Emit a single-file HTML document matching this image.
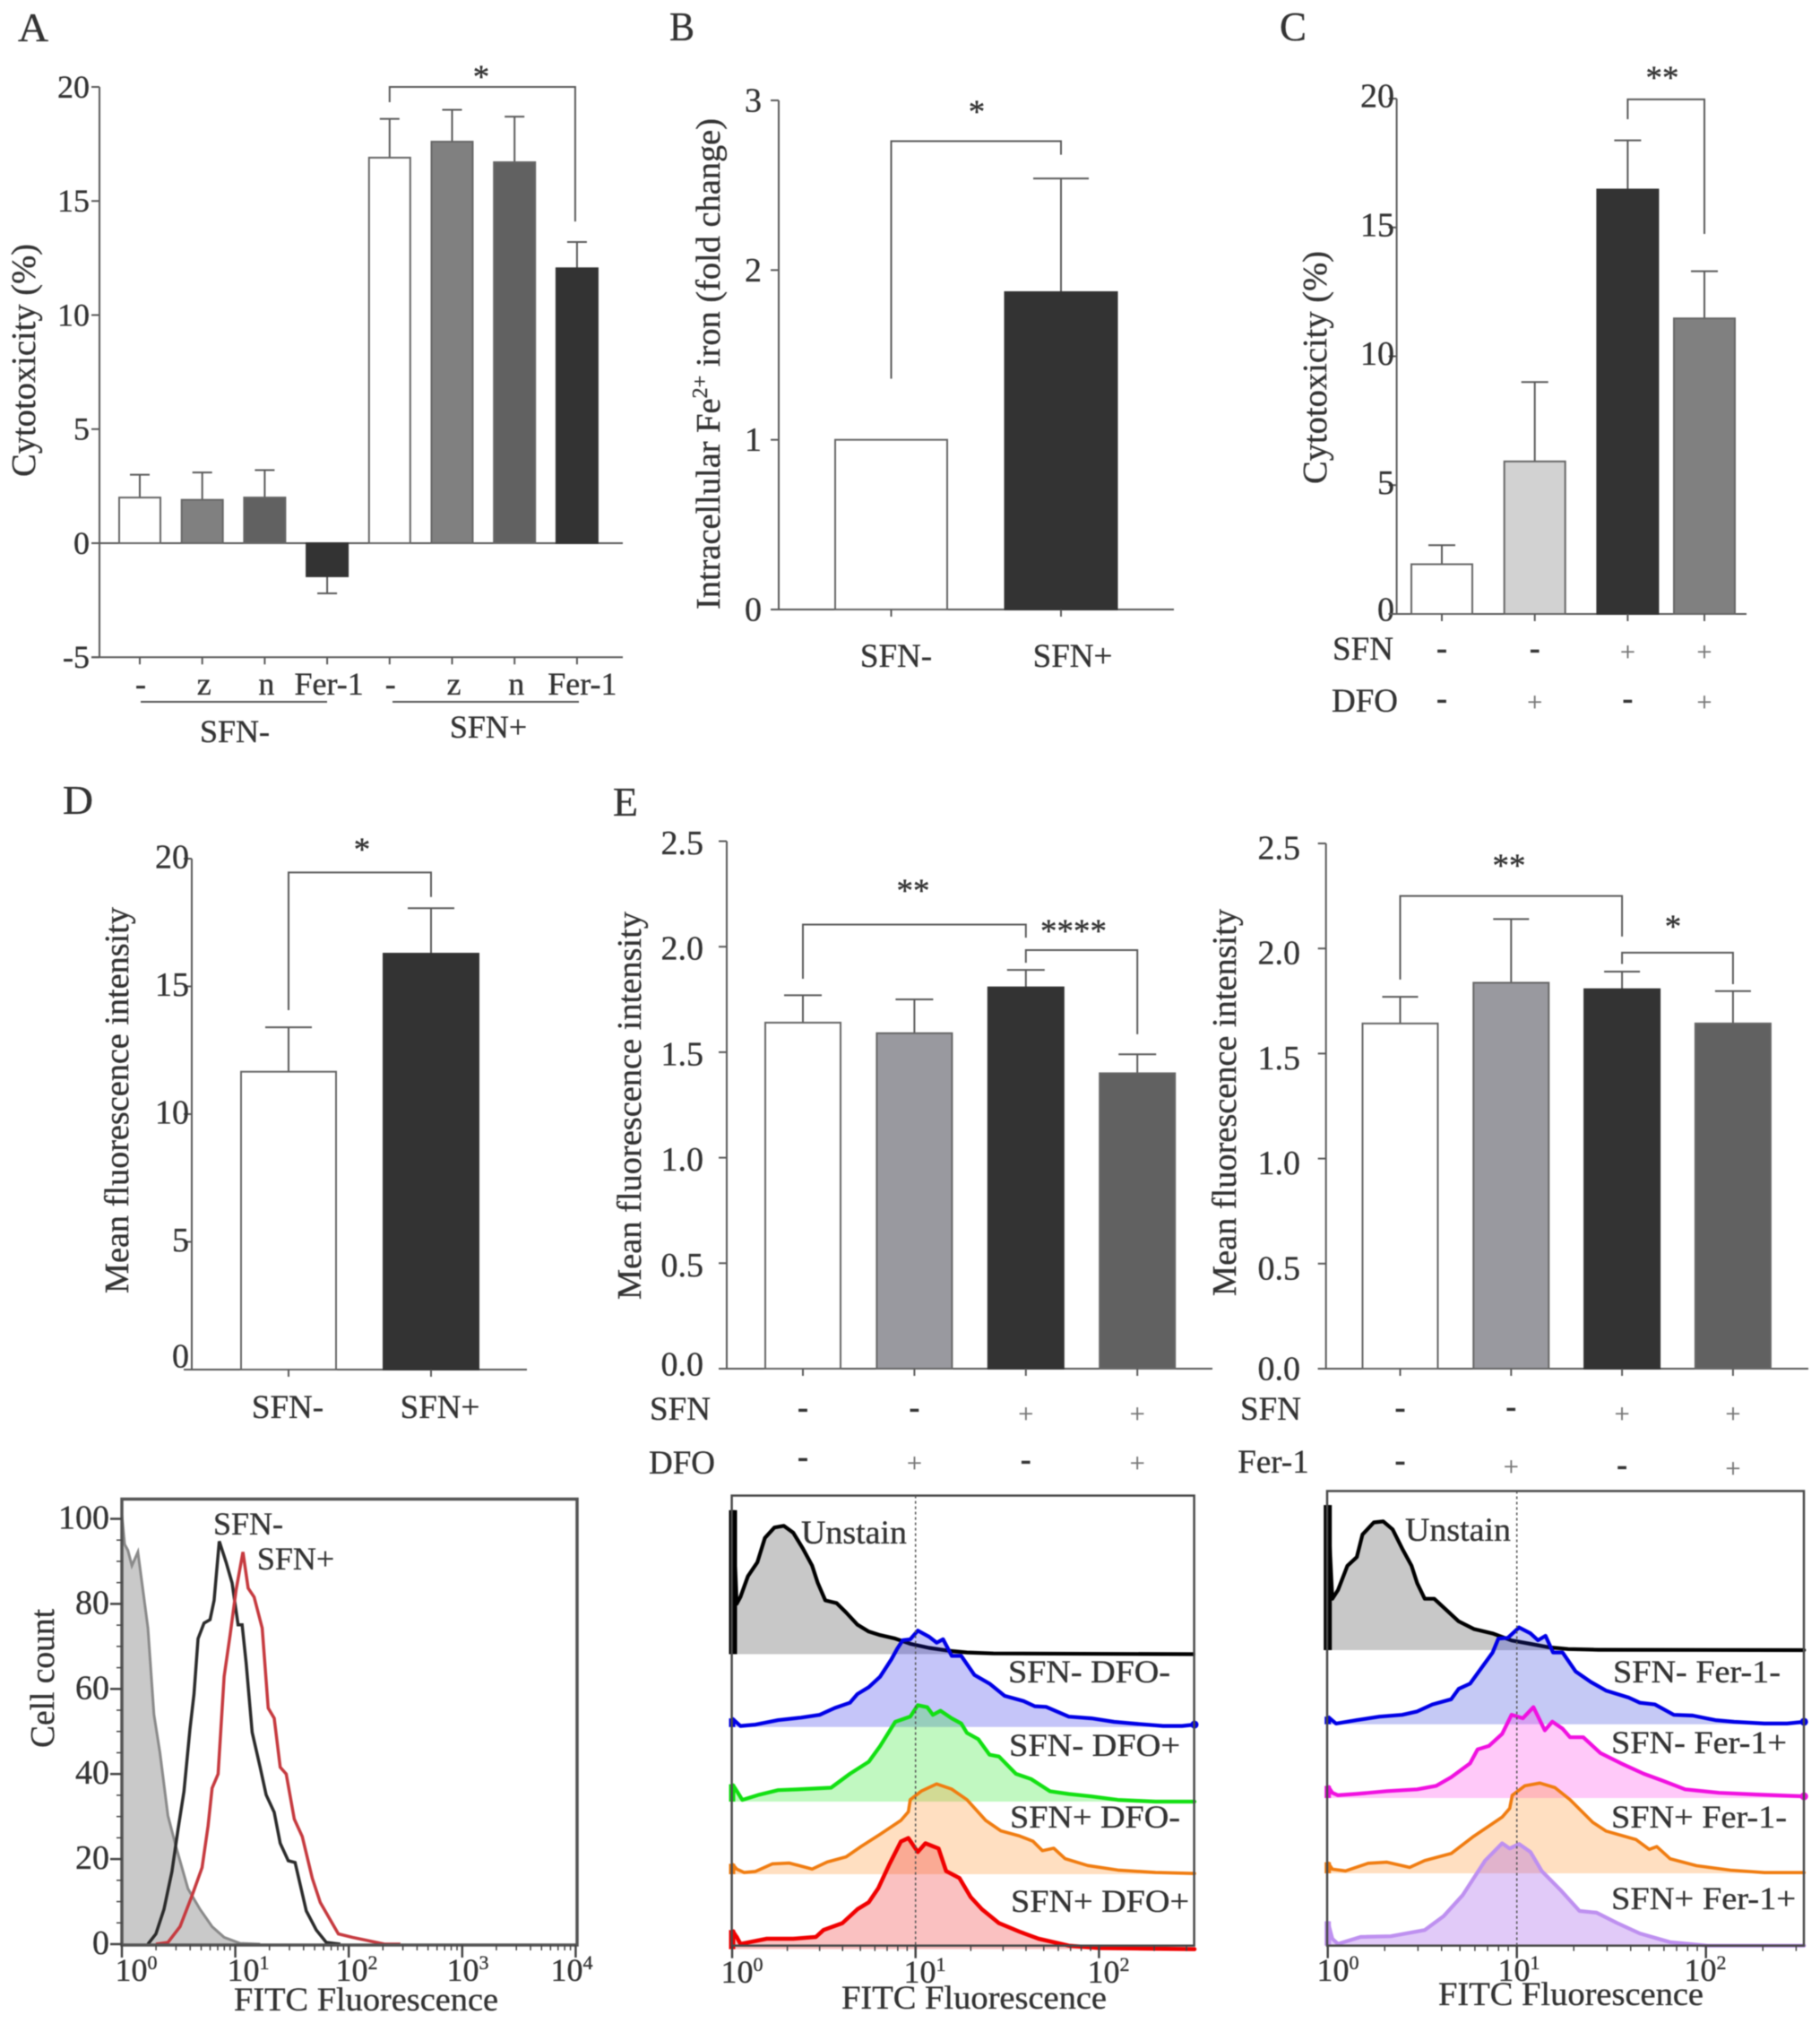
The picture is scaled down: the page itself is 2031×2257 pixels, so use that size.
<!DOCTYPE html>
<html lang="en">
<head>
<meta charset="utf-8">
<title>Sulforaphane ferroptosis figure panels</title>
<style>
html,body{margin:0;padding:0;background:#fff;}
svg{display:block;filter:blur(0.6px);}
text{font-family:"Liberation Serif","DejaVu Serif",serif;fill:#333;stroke:#333;stroke-width:0.35px;}
</style>
</head>
<body>
<svg id="figure" xmlns="http://www.w3.org/2000/svg" width="2031" height="2257" viewBox="0 0 2031 2257">
<rect x="0" y="0" width="2031" height="2257" fill="#fff"/>

<g id="panel-a">
  <text x="20" y="46" font-size="45" textLength="34" lengthAdjust="spacingAndGlyphs">A</text>
  <text transform="translate(39,532) rotate(-90)" font-size="38" textLength="260" lengthAdjust="spacingAndGlyphs">Cytotoxicity (%)</text>
  <text x="537" y="98" font-size="37" text-anchor="middle">*</text>
  <line x1="157" y1="783" x2="365" y2="783" stroke="#555" stroke-width="2"/>
  <line x1="438" y1="783" x2="646" y2="783" stroke="#555" stroke-width="2"/>
  <text x="262" y="828" font-size="36" text-anchor="middle">SFN-</text>
  <text x="545" y="823" font-size="36" text-anchor="middle">SFN+</text>
</g>

<g id="panel-b">
  <text x="747" y="45" font-size="45" textLength="28" lengthAdjust="spacingAndGlyphs">B</text>
  <text transform="translate(803,680) rotate(-90)" font-size="38" textLength="548" lengthAdjust="spacingAndGlyphs">Intracellular Fe<tspan font-size="24" dy="-14">2+</tspan><tspan dy="14"> iron (fold change)</tspan></text>
  <text x="1090" y="137" font-size="37" text-anchor="middle">*</text>
  <text x="1000" y="744" font-size="37" text-anchor="middle">SFN-</text>
  <text x="1197" y="744" font-size="37" text-anchor="middle">SFN+</text>
</g>

<g id="panel-c">
  <text x="1428" y="45" font-size="45" textLength="30" lengthAdjust="spacingAndGlyphs">C</text>
  <text transform="translate(1480,540) rotate(-90)" font-size="38" textLength="260" lengthAdjust="spacingAndGlyphs">Cytotoxicity (%)</text>
  <text x="1855" y="99" font-size="37" text-anchor="middle">**</text>
  <text x="1521" y="736" font-size="37" text-anchor="middle">SFN</text>
  <text x="1523" y="794" font-size="37" text-anchor="middle">DFO</text>
</g>

<g id="panel-d">
  <text x="70" y="908" font-size="45" textLength="34" lengthAdjust="spacingAndGlyphs">D</text>
  <text transform="translate(143,1443) rotate(-90)" font-size="38" textLength="431" lengthAdjust="spacingAndGlyphs">Mean fluorescence intensity</text>
  <text x="404" y="960" font-size="37" text-anchor="middle">*</text>
  <text x="321" y="1582" font-size="37" text-anchor="middle">SFN-</text>
  <text x="491" y="1582" font-size="37" text-anchor="middle">SFN+</text>
</g>

<g id="panel-e-dfo">
  <text x="684" y="910" font-size="45" textLength="28" lengthAdjust="spacingAndGlyphs">E</text>
  <text transform="translate(715,1450) rotate(-90)" font-size="38" textLength="433" lengthAdjust="spacingAndGlyphs">Mean fluorescence intensity</text>
  <text x="1019" y="1006" font-size="37" text-anchor="middle">**</text>
  <text x="1198" y="1051" font-size="37" text-anchor="middle">****</text>
  <text x="759" y="1584" font-size="37" text-anchor="middle">SFN</text>
  <text x="761" y="1644" font-size="37" text-anchor="middle">DFO</text>
</g>

<g id="panel-e-fer">
  <text transform="translate(1379,1446) rotate(-90)" font-size="38" textLength="432" lengthAdjust="spacingAndGlyphs">Mean fluorescence intensity</text>
  <text x="1684" y="978" font-size="37" text-anchor="middle">**</text>
  <text x="1867" y="1046" font-size="37" text-anchor="middle">*</text>
  <text x="1418" y="1584" font-size="37" text-anchor="middle">SFN</text>
  <text x="1421" y="1643" font-size="37" text-anchor="middle">Fer-1</text>
</g>

<g id="flow-d">
  <text transform="translate(60,1950) rotate(-90)" font-size="38" textLength="155" lengthAdjust="spacingAndGlyphs">Cell count</text>
  <text x="261" y="2243" font-size="37" textLength="295" lengthAdjust="spacingAndGlyphs">FITC Fluorescence</text>
  <text x="152" y="2210" font-size="36" text-anchor="middle">10<tspan font-size="22" dy="-13">0</tspan></text>
  <text x="277" y="2210" font-size="36" text-anchor="middle">10<tspan font-size="22" dy="-13">1</tspan></text>
  <text x="398" y="2210" font-size="36" text-anchor="middle">10<tspan font-size="22" dy="-13">2</tspan></text>
  <text x="522" y="2210" font-size="36" text-anchor="middle">10<tspan font-size="22" dy="-13">3</tspan></text>
  <text x="638" y="2210" font-size="36" text-anchor="middle">10<tspan font-size="22" dy="-13">4</tspan></text>
</g>

<g id="flow-e-dfo">
  <text x="939" y="2241" font-size="37" textLength="296" lengthAdjust="spacingAndGlyphs">FITC Fluorescence</text>
  <text x="828" y="2212" font-size="36" text-anchor="middle">10<tspan font-size="22" dy="-13">0</tspan></text>
  <text x="1032" y="2212" font-size="36" text-anchor="middle">10<tspan font-size="22" dy="-13">1</tspan></text>
  <text x="1237" y="2212" font-size="36" text-anchor="middle">10<tspan font-size="22" dy="-13">2</tspan></text>
</g>

<g id="flow-e-fer">
  <text x="1605" y="2237" font-size="37" textLength="296" lengthAdjust="spacingAndGlyphs">FITC Fluorescence</text>
  <text x="1493" y="2210" font-size="36" text-anchor="middle">10<tspan font-size="22" dy="-13">0</tspan></text>
  <text x="1695" y="2210" font-size="36" text-anchor="middle">10<tspan font-size="22" dy="-13">1</tspan></text>
  <text x="1903" y="2210" font-size="36" text-anchor="middle">10<tspan font-size="22" dy="-13">2</tspan></text>
</g>

<g id="flow-labels">
  <text x="277" y="1712" font-size="36" text-anchor="middle">SFN-</text>
  <text x="330" y="1751" font-size="36" text-anchor="middle">SFN+</text>
  <text x="894" y="1722" font-size="37" textLength="118" lengthAdjust="spacingAndGlyphs">Unstain</text>
  <text x="1125" y="1877" font-size="36" textLength="181" lengthAdjust="spacingAndGlyphs">SFN- DFO-</text>
  <text x="1126" y="1959" font-size="36" textLength="191" lengthAdjust="spacingAndGlyphs">SFN- DFO+</text>
  <text x="1127" y="2039" font-size="36" textLength="190" lengthAdjust="spacingAndGlyphs">SFN+ DFO-</text>
  <text x="1128" y="2133" font-size="36" textLength="199" lengthAdjust="spacingAndGlyphs">SFN+ DFO+</text>
  <text x="1568" y="1719" font-size="37" textLength="118" lengthAdjust="spacingAndGlyphs">Unstain</text>
  <text x="1800" y="1877" font-size="36" textLength="187" lengthAdjust="spacingAndGlyphs">SFN- Fer-1-</text>
  <text x="1798" y="1956" font-size="36" textLength="196" lengthAdjust="spacingAndGlyphs">SFN- Fer-1+</text>
  <text x="1798" y="2039" font-size="36" textLength="196" lengthAdjust="spacingAndGlyphs">SFN+ Fer-1-</text>
  <text x="1798" y="2130" font-size="36" textLength="206" lengthAdjust="spacingAndGlyphs">SFN+ Fer-1+</text>
</g>
</svg>

<script>
/* ---------- bar chart data ---------- */
const aCategories = ['-','z','n','Fer-1','-','z','n','Fer-1'];
const aValues = [2.0,1.9,2.0,-1.45,16.9,17.6,16.7,12.05];
const aErrorEnds = [3.0,3.1,3.2,-2.2,18.6,19.0,18.7,13.2];
const aTicks = [-5,0,5,10,15,20];

const bValues = [1.0,1.87];
const bErrorEnds = [1.0,2.54];
const bTicks = [0,1,2,3];

const cValues = [1.93,5.92,16.47,11.47];
const cErrorEnds = [2.67,9.0,18.38,13.3];
const cTicks = [0,5,10,15,20];
const cRowSfn = ['-','-','+','+'];
const cRowDfo = ['-','+','-','+'];

const dValues = [11.66,16.28];
const dErrorEnds = [13.4,18.06];
const dTicks = [0,5,10,15,20];

const e1Values = [1.64,1.59,1.807,1.40];
const e1ErrorEnds = [1.77,1.75,1.89,1.49];
const e2Values = [1.643,1.837,1.806,1.643];
const e2ErrorEnds = [1.77,2.14,1.89,1.797];
const eTicks = [0,0.5,1,1.5,2,2.5];
const e1RowSfn = ['-','-','+','+'];
const e1RowDfo = ['-','+','-','+'];
const e2RowSfn = ['-','-','+','+'];
const e2RowFer = ['-','+','-','+'];

/* ---------- flow histogram data (channel, event count) ---------- */
const dUnstainChannels = [0,7,15,25,40,50,65,80,95,115,135,165,195,225,255,295,345];
const dUnstainCounts = [101,94,92.6,89,92.2,85,74.3,54,45,30.2,22.9,13,8.2,4.1,1.6,0.2,0];
const dSfnMinusChannels = [65,85,105,125,140,155,170,180,190,205,220,230,243,260,275,290,300,310,325,345,360,380,395,415,432,445,460,485,510,545];
const dSfnMinusCounts = [0,2.4,8.2,17.1,26.9,35.9,50.6,58.8,71.8,75.5,76.3,80.8,94.7,89.8,84.9,75.1,75.1,66.1,49.8,41.6,35.1,31,23.7,19.6,19.2,13.9,7.8,3.3,0.4,0];
const dSfnPlusChannels = [85,115,145,175,200,215,225,240,255,270,285,302,315,330,350,365,380,395,410,430,450,475,495,520,540,575,615,655,695];
const dSfnPlusCounts = [0,0.4,4.1,11.4,18,27.8,36.7,40,62.9,72.7,83.3,92.2,83.7,81.6,74.3,55.5,53.1,41.6,40,29.4,25.3,15.5,9.8,5.7,2.4,1.6,0.8,0,0];

const e1UnstainChannels = [0,12,22,42,67,87,112,137,162,187,212,227,247,277,302,332,362,392,432,472,522,572,622,692,1222];
const e1UnstainCounts = [415,145,165,225,265,335,365,370,350,305,255,205,155,147,120,85,65,55,45,30,18,10,5,2,0];
const e1BlueChannels = [0,22,62,122,182,232,272,312,332,362,392,422,437,452,472,492,522,542,559,582,607,642,682,722,772,802,832,892,952,1012,1062,1142,1192,1225];
const e1BlueCounts = [25,3,7,20,27,35,55,70,95,115,145,195,225,250,253,278,260,243,253,205,205,150,125,90,75,60,58,30,25,15,10,3,3,7];
const e1GreenChannels = [0,7,27,72,122,172,262,312,362,392,432,472,492,517,532,552,582,607,622,652,682,707,752,792,842,892,952,1022,1122,1225];
const e1GreenCounts = [50,40,5,20,33,35,40,80,115,160,230,245,278,272,250,262,240,225,198,180,135,130,80,65,30,22,15,5,0,0];
const e1OrangeChannels = [0,12,32,62,107,152,212,252,302,342,392,447,467,472,502,542,582,622,672,712,762,797,822,852,882,942,1022,1122,1225];
const e1OrangeCounts = [30,15,5,8,30,32,15,35,50,80,115,155,180,215,240,260,245,215,155,125,110,95,68,75,45,25,12,5,2];
const e1RedChannels = [0,12,22,92,162,222,242,292,332,362,387,417,447,467,492,512,547,567,602,632,662,707,762,812,892,972,1225];
const e1RedCounts = [55,35,15,30,30,35,55,75,115,135,175,245,310,320,280,305,290,225,205,150,115,75,50,30,10,3,0];

const e2UnstainChannels = [0,12,27,52,77,92,122,147,172,197,222,237,257,282,312,347,387,437,487,537,587,637,717,1262];
const e2UnstainCounts = [418,148,173,243,268,333,368,371,348,293,243,193,148,148,118,83,61,48,28,18,8,3,1,0];
const e2BlueChannels = [0,22,77,137,197,237,277,327,347,377,407,437,452,477,507,537,557,577,597,622,657,697,737,797,827,867,917,967,1027,1077,1157,1217,1262];
const e2BlueCounts = [22,2,12,22,27,37,57,72,102,117,162,207,247,249,279,262,242,255,207,207,152,122,97,77,62,57,27,25,12,7,2,2,7];
const e2MagentaChannels = [0,12,27,77,157,237,287,327,377,397,427,462,487,517,545,575,595,622,642,677,722,777,837,887,947,1037,1137,1262];
const e2MagentaCounts = [35,15,8,12,20,25,35,60,100,140,150,185,240,230,262,195,220,200,175,175,130,100,70,50,25,15,10,5];
const e2OrangeChannels = [0,12,47,107,157,217,257,327,387,462,482,489,522,562,602,642,702,737,817,852,872,907,977,1067,1157,1262];
const e2OrangeCounts = [32,12,7,29,32,17,37,57,107,162,187,225,252,260,247,212,147,122,97,69,77,42,22,9,2,2];
const e2PurpleChannels = [0,12,27,87,167,257,307,357,417,462,482,507,537,567,617,667,712,767,827,907,1007,1262];
const e2PurpleCounts = [70,20,5,25,27,45,85,145,245,295,280,293,270,215,160,100,95,65,35,10,0,0];

/* ---------- helpers ---------- */
const NS = 'http://www.w3.org/2000/svg';
function make(parent, tag, attrs) {
  const el = document.createElementNS(NS, tag);
  for (const k in attrs) el.setAttribute(k, attrs[k]);
  parent.appendChild(el);
  return el;
}
const AXIS = '#5a5a5a';

function linear(d0, d1, r0, r1) {
  return function (v) { return r0 + (v - d0) * (r1 - r0) / (d1 - d0); };
}

function drawAxes(g, o) {
  /* vertical axis */
  let el = make(g, 'line', {x1:o.axisX, x2:o.axisX, y1:o.y(o.ticks[o.ticks.length-1]), y2:o.y(o.ticks[0]), stroke:AXIS, 'stroke-width':2});
  
  
  o.ticks.forEach(function (t, i) {
    const tick = make(g, 'line', {x1:o.axisX-9, x2:o.axisX, y1:o.y(t), y2:o.y(t), stroke:AXIS, 'stroke-width':2});
    
    
    const str = o.tickFormat ? o.tickFormat(t) : String(t);
    const dy = (t === 0 ? o.zeroDy : o.labelDy) || 0;
    const label = make(g, 'text', {x:o.labelEnd, y:o.y(t)+dy+o.fontSize*0.33, 'font-size':o.fontSize, 'text-anchor':'end'});
    label.textContent = str;
    
    
  });
  /* horizontal axis */
  el = make(g, 'line', {x1:o.axisX-9, x2:o.axisEnd, y1:o.y(o.xAxisAt), y2:o.y(o.xAxisAt), stroke:AXIS, 'stroke-width':2});
  
  
}

function drawBars(g, o) {
  o.values.forEach(function (v, i) {
    const cx = o.x(i);
    /* error bar first so the bar sits on top */
    const stem = make(g, 'line', {x1:cx, x2:cx, y1:o.y(v), y2:o.y(o.errors[i]), stroke:AXIS, 'stroke-width':2});
    
    
    if (o.errors[i] !== v) {
      const cap = make(g, 'line', {x1:cx-o.cap/2, x2:cx+o.cap/2, y1:o.y(o.errors[i]), y2:o.y(o.errors[i]), stroke:AXIS, 'stroke-width':2});
      
      
    }
    const top = Math.min(o.y(v), o.y(0));
    const h = Math.abs(o.y(v) - o.y(0));
    const bar = make(g, 'rect', {x:cx-o.width/2, y:top, width:o.width, height:h, fill:o.colors[i], stroke:o.colors[i]==='#ffffff'?'#666':(o.colors[i]==='#333333'?'#333':'#666'), 'stroke-width':2});
    
    
    const tick = make(g, 'line', {x1:cx, x2:cx, y1:o.y(o.xAxisAt), y2:o.y(o.xAxisAt)+8, stroke:AXIS, 'stroke-width':2});
    
    
  });
}

function bracket(g, x1, x2, level, leftEnd, rightEnd, y) {
  const d = 'M'+x1+' '+y(leftEnd)+' V'+y(level)+' H'+x2+' V'+y(rightEnd);
  const el = make(g, 'path', {d:d, fill:'none', stroke:AXIS, 'stroke-width':2});
  
  
}

function symbolRow(g, symbols, x, yCenters) {
  symbols.forEach(function (s, i) {
    const isMinus = s === '-';
    const size = isMinus ? 36 : 30;
    const t = make(g, 'text', {x:x(i), y:yCenters[i]+(isMinus?8:10), 'font-size':size, 'text-anchor':'middle', 'font-weight':isMinus?'bold':'normal'});
    t.setAttribute('style', isMinus ? 'fill:#333' : 'fill:#777;stroke:#777');
    t.textContent = s;
    
    
  });
}

/* ---------- panel A ---------- */
(function () {
  const g = document.getElementById('panel-a');
  const y = linear(0, 20, 606, 97);
  const x = function (i) { return 156 + i * 69.7; };
  const colors = ['#ffffff','#808080','#616161','#333333','#ffffff','#808080','#616161','#333333'];
  drawAxes(g, {axisX:111, axisEnd:695, y:y, ticks:aTicks, labelEnd:100, fontSize:36, xAxisAt:0});
  const bottom = make(g, 'line', {x1:102, x2:695, y1:y(-5), y2:y(-5), stroke:AXIS, 'stroke-width':2});
  
  
  drawBars(g, {values:aValues, errors:aErrorEnds, x:x, y:y, width:46, cap:22, colors:colors, xAxisAt:-5});
  bracket(g, x(4), x(7)-2, 20, 19.33, 14.1, y);
  aCategories.forEach(function (c, i) {
    const t = make(g, 'text', {x:x(i)+(c==='Fer-1'?(i===7?6:2):(c==='-'?1:2)), y:775, 'font-size':36, 'text-anchor':'middle'});
    t.textContent = c;
    
    
  });
})();

/* ---------- panel B ---------- */
(function () {
  const g = document.getElementById('panel-b');
  const y = linear(0, 3, 680, 112);
  const x = function (i) { return 994.5 + i * 189.5; };
  drawAxes(g, {axisX:869, axisEnd:1310, y:y, ticks:bTicks, labelEnd:850, fontSize:38, xAxisAt:0});
  drawBars(g, {values:bValues, errors:bErrorEnds, x:x, y:y, width:125, cap:62, colors:['#ffffff','#333333'], xAxisAt:0});
  bracket(g, x(0), x(1), 2.76, 1.36, 2.68, y);
})();

/* ---------- panel C ---------- */
(function () {
  const g = document.getElementById('panel-c');
  const y = linear(0, 20, 685, 110);
  const x = function (i) { return 1609 + i * 103.7 - (i === 3 ? 18.1 : 0); };
  drawAxes(g, {axisX:1558.6, axisEnd:1949, y:y, ticks:cTicks, labelEnd:1556, fontSize:38, xAxisAt:0, zeroDy:-5, labelDy:-3});
  drawBars(g, {values:cValues, errors:cErrorEnds, x:x, y:y, width:68, cap:30, colors:['#ffffff','#d2d2d2','#333333','#808080'], xAxisAt:0});
  bracket(g, x(2), x(3), 19.97, 19.2, 14.75, y);
  symbolRow(g, cRowSfn, x, [727,727,727,727]);
  symbolRow(g, cRowDfo, x, [783,783,783,783]);
})();

/* ---------- panel D ---------- */
(function () {
  const g = document.getElementById('panel-d');
  const y = linear(0, 20, 1528, 958);
  const x = function (i) { return 322 + i * 159; };
  drawAxes(g, {axisX:214, axisEnd:588, y:y, ticks:dTicks, labelEnd:211, fontSize:38, xAxisAt:0, zeroDy:-15, labelDy:-2});
  drawBars(g, {values:dValues, errors:dErrorEnds, x:x, y:y, width:106, cap:52, colors:['#ffffff','#333333'], xAxisAt:0});
  bracket(g, x(0), x(1), 19.46, 14.07, 18.5, y);
})();

/* ---------- panel E, DFO ---------- */
(function () {
  const g = document.getElementById('panel-e-dfo');
  const y = linear(0, 2.5, 1527, 938.5);
  const x = function (i) { return 896 + i * 124.4; };
  drawAxes(g, {axisX:811, axisEnd:1353, y:y, ticks:eTicks, labelEnd:785, fontSize:38, xAxisAt:0, zeroDy:-5, labelDy:2, tickFormat:function (t) { return t.toFixed(1); }});
  drawBars(g, {values:e1Values, errors:e1ErrorEnds, x:x, y:y, width:84, cap:42, colors:['#ffffff','#99999f','#333333','#616161'], xAxisAt:0});
  bracket(g, x(0), x(2), 2.105, 1.848, 2.043, y);
  bracket(g, x(2), x(3), 1.984, 1.924, 1.585, y);
  symbolRow(g, e1RowSfn, x, [1574,1574,1577,1577]);
  symbolRow(g, e1RowDfo, x, [1629,1632,1632,1632]);
})();

/* ---------- panel E, Fer-1 ---------- */
(function () {
  const g = document.getElementById('panel-e-fer');
  const y = linear(0, 2.5, 1527, 941);
  const x = function (i) { return 1562.5 + i * 123.8; };
  drawAxes(g, {axisX:1479.7, axisEnd:2018, y:y, ticks:eTicks, labelEnd:1451, fontSize:38, xAxisAt:0, zeroDy:0, labelDy:5, tickFormat:function (t) { return t.toFixed(1); }});
  drawBars(g, {values:e2Values, errors:e2ErrorEnds, x:x, y:y, width:84, cap:40, colors:['#ffffff','#99999f','#333333','#616161'], xAxisAt:0});
  bracket(g, x(0), x(2), 2.25, 1.852, 2.057, y);
  bracket(g, x(2), x(3), 1.98, 1.926, 1.83, y);
  symbolRow(g, e2RowSfn, x, [1574,1573,1577,1577]);
  symbolRow(g, e2RowFer, x, [1633,1636,1638,1638]);
})();

/* ---------- flow histograms ---------- */
function curvePath(channels, counts, x, y) {
  return channels.map(function (c, i) { return (i ? 'L' : 'M') + x(c).toFixed(1) + ' ' + y(counts[i]).toFixed(1); }).join(' ');
}

function logTicks(g, x0, decadePx, decades, yBase, maxPx) {
  for (let d = 0; d <= decades; d++) {
    for (let m = 1; m <= 9; m++) {
      const px = x0 + (d + Math.log10(m)) * decadePx;
      if (px > maxPx) continue;
      if (d === decades && m > 1 && maxPx === x0 + decades * decadePx) continue;
      const len = m === 1 ? 14 : 6;
      const t = make(g, 'line', {x1:px, x2:px, y1:yBase, y2:yBase+len, stroke:'#444', 'stroke-width':m===1?2.5:1.5});
      
      
    }
  }
}

/* histogram D */
(function () {
  const g = document.getElementById('flow-d');
  const left = 136, right = 644, top = 1672.5, bottom = 2170;
  const channelsPerDecade = 283;
  const decadePx = 126.6;
  const x = function (ch) { return left + (ch / channelsPerDecade) * decadePx; };
  const y = linear(0, 100, 2169, 1694.5);
  const countTicks = [0,20,40,60,80,100];
  const base = y(0);

  const fill = make(g, 'path', {d:curvePath(dUnstainChannels, dUnstainCounts, x, y) + ' L' + x(345) + ' ' + base + ' L' + x(0) + ' ' + base + ' Z', fill:'#c9c9c9', stroke:'none'});
  
  
  const grey = make(g, 'path', {d:curvePath(dUnstainChannels, dUnstainCounts, x, y), fill:'none', stroke:'#8a8a8a', 'stroke-width':3});
  
  
  const black = make(g, 'path', {d:curvePath(dSfnMinusChannels, dSfnMinusCounts, x, y), fill:'none', stroke:'#2b2b2b', 'stroke-width':3.5});
  
  
  const red = make(g, 'path', {d:curvePath(dSfnPlusChannels, dSfnPlusCounts, x, y), fill:'none', stroke:'#c63a3f', 'stroke-width':3.5});
  
  

  const frame = make(g, 'rect', {x:left, y:top, width:right-left, height:bottom-top, fill:'none', stroke:'#555', 'stroke-width':3.5});
  
  

  for (let v = 0; v <= 100; v += 5) {
    const major = v % 20 === 0;
    const t = make(g, 'line', {x1:left-(major?13:6), x2:left, y1:y(v), y2:y(v), stroke:'#444', 'stroke-width':major?2.5:1.5});
    
    
  }
  countTicks.forEach(function (v) {
    const t = make(g, 'text', {x:122, y:y(v)+11, 'font-size':38, 'text-anchor':'end'});
    t.textContent = String(v);
    
    
  });
  logTicks(g, left, decadePx, 4, bottom, right);
})();

function drawStack(g, o) {
  const x = function (ch) { return o.x0 + (ch / o.channelsPerDecade) * o.decadePx; };
  o.series.forEach(function (s) {
    const base = s.base;
    const y = function (count) { return base - count / 2.583; };
    const lastCh = s.channels[s.channels.length - 1];
    const lastCount = s.counts[s.counts.length - 1];
    const area = make(g, 'path', {d:curvePath(s.channels, s.counts, x, y) + ' L' + x(lastCh) + ' ' + base + ' L' + x(0) + ' ' + base + ' Z', fill:s.fill, 'fill-opacity':s.opacity, stroke:'none'});
    
    
    const line = make(g, 'path', {d:curvePath(s.channels.slice(1), s.counts.slice(1), x, y), fill:'none', stroke:s.stroke, 'stroke-width':s.width, 'stroke-linejoin':'round', 'stroke-linecap':'round'});
    
    
    const spike = make(g, 'line', {x1:x(0)+s.spikeShift, x2:x(0)+s.spikeShift, y1:base, y2:y(s.counts[0]), stroke:s.stroke, 'stroke-width':s.spikeWidth});
    
    
    /* connect spike to curve */
    const link = make(g, 'line', {x1:x(0)+s.spikeShift, x2:x(s.channels[1]), y1:y(s.counts[0]), y2:y(s.counts[1]), stroke:s.stroke, 'stroke-width':s.width});
    
    
    if (s.endDot) {
      const dot = make(g, 'circle', {cx:x(lastCh), cy:y(lastCount), r:4.5, fill:s.stroke});
      
      
    }
  });
  const frame = make(g, 'rect', {x:o.left, y:o.top, width:o.right-o.left, height:o.bottom-o.top, fill:'none', stroke:'#4a4a4a', 'stroke-width':2.5});
  
  
  const ref = make(g, 'line', {x1:o.x0+o.decadePx, x2:o.x0+o.decadePx, y1:o.top, y2:o.bottom, stroke:'#555', 'stroke-width':1.5, 'stroke-dasharray':'3 3'});
  
  
  logTicks(g, o.x0, o.decadePx, 2, o.bottom, o.right);
}

/* histogram E DFO */
drawStack(document.getElementById('flow-e-dfo'), {
  left:816.6, right:1332.6, top:1668.6, bottom:2170.7, x0:817, decadePx:204.7, channelsPerDecade:486,
  series:[
    {channels:e1UnstainChannels, counts:e1UnstainCounts, base:1845.5, fill:'#b0b0b0', opacity:0.7, stroke:'#000', width:4.2, spikeWidth:9, spikeShift:1},
    {channels:e1BlueChannels, counts:e1BlueCounts, base:1926.8, fill:'#2020e8', opacity:0.26, stroke:'#0000e6', width:4.2, spikeWidth:7, spikeShift:0, endDot:true},
    {channels:e1GreenChannels, counts:e1GreenCounts, base:2010, fill:'#22e622', opacity:0.28, stroke:'#12e012', width:4.2, spikeWidth:7, spikeShift:0},
    {channels:e1OrangeChannels, counts:e1OrangeCounts, base:2091, fill:'#ff8c20', opacity:0.28, stroke:'#f07c10', width:3.6, spikeWidth:7, spikeShift:0},
    {channels:e1RedChannels, counts:e1RedCounts, base:2174.6, fill:'#ee2020', opacity:0.28, stroke:'#f00000', width:4.5, spikeWidth:7, spikeShift:0}
  ]
});

/* histogram E Fer-1 */
drawStack(document.getElementById('flow-e-fer'), {
  left:1481, right:2013, top:1663.5, bottom:2170.7, x0:1481.7, decadePx:211, channelsPerDecade:501,
  series:[
    {channels:e2UnstainChannels, counts:e2UnstainCounts, base:1841, fill:'#b0b0b0', opacity:0.7, stroke:'#000', width:4.2, spikeWidth:9, spikeShift:0},
    {channels:e2BlueChannels, counts:e2BlueCounts, base:1923.7, fill:'#2030d8', opacity:0.26, stroke:'#0000e6', width:4.2, spikeWidth:7, spikeShift:0, endDot:true},
    {channels:e2MagentaChannels, counts:e2MagentaCounts, base:2006, fill:'#ff30e8', opacity:0.26, stroke:'#f010e0', width:4.2, spikeWidth:7, spikeShift:0, endDot:true},
    {channels:e2OrangeChannels, counts:e2OrangeCounts, base:2090, fill:'#ff8c20', opacity:0.28, stroke:'#f07c10', width:3.6, spikeWidth:7, spikeShift:0},
    {channels:e2PurpleChannels, counts:e2PurpleCounts, base:2170.7, fill:'#9a50e8', opacity:0.3, stroke:'#be90f0', width:4.2, spikeWidth:7, spikeShift:0}
  ]
});
</script>
</body>
</html>
